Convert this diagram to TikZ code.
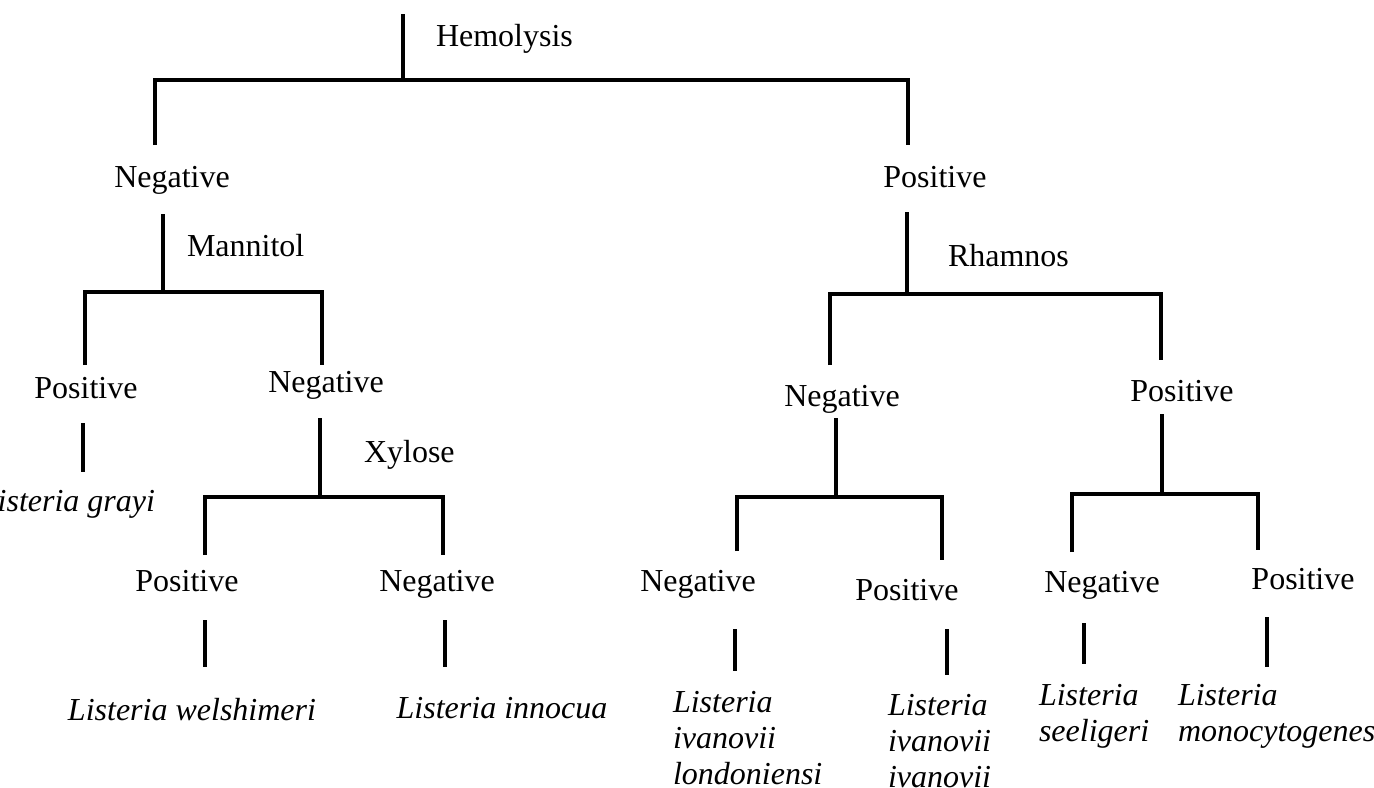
\documentclass[tikz,border=0pt]{standalone}
\usepackage{fontspec}
\setmainfont{Liberation Serif}
\begin{document}
\begin{tikzpicture}[x=0.5pt,y=-0.5pt,line width=2pt,
  lbl/.style={inner sep=0pt,anchor=base,font=\fontsize{16}{18}\selectfont},
  test/.style={inner sep=0pt,anchor=base west,font=\fontsize{16}{18}\selectfont},
  sp/.style={inner sep=0pt,anchor=base,font=\fontsize{16}{18}\selectfont\itshape},
  spm/.style={inner sep=0pt,anchor=north west,align=left,font=\fontsize{16}{18}\selectfont\itshape}]
\useasboundingbox (0,0) rectangle (1374,787);
% labels
\node[test] (hem) at (434,46) {Hemolysis};
\node[lbl] (n1) at (172,187) {Negative};
\node[lbl] (p1) at (935,187) {Positive};
\node[test] (man) at (185,256) {Mannitol};
\node[lbl] (p2) at (86,398) {Positive};
\node[lbl] (n2) at (326,392) {Negative};
\node[sp,anchor=base east] (gra) at (157,511) {Listeria grayi};
\node[test] (xyl) at (362,462) {Xylose};
\node[lbl] (p3) at (187,591) {Positive};
\node[lbl] (n3) at (437,591) {Negative};
\node[sp] (wel) at (192,720) {Listeria welshimeri};
\node[sp] (inn) at (502,718) {Listeria innocua};
\node[test] (rha) at (946,266) {Rhamnos};
\node[lbl] (rn2) at (842,406) {Negative};
\node[lbl] (rp2) at (1182,401) {Positive};
\node[lbl] (rn3a) at (698,591) {Negative};
\node[lbl] (rp3b) at (907,600) {Positive};
\node[lbl] (rn3c) at (1102,592) {Negative};
\node[lbl] (rp3d) at (1303,589) {Positive};
\node[spm] (lon) at (671,689) {Listeria\\ivanovii\\londoniensi};
\node[spm] (iva) at (886,692) {Listeria\\ivanovii\\ivanovii};
\node[spm] (see) at (1037,682) {Listeria\\seeligeri};
\node[spm] (mon) at (1176,682) {Listeria\\monocytogenes};
% junction coordinates
\coordinate (t0) at (403,14); \coordinate (t1) at (403,80);
\coordinate (tl) at (155,145); \coordinate (tr) at (908,145);
\coordinate (m0) at (163,214); \coordinate (m1) at (163,292);
\coordinate (ml) at (85,365); \coordinate (mr) at (322,365);
\coordinate (g0) at (83,423); \coordinate (g1) at (83,472);
\coordinate (x0) at (320,418); \coordinate (x1) at (320,497);
\coordinate (xl) at (205,555); \coordinate (xr) at (443,555);
\coordinate (w0) at (205,620); \coordinate (w1) at (205,667);
\coordinate (i0) at (445,620); \coordinate (i1) at (445,667);
\coordinate (h0) at (907,212); \coordinate (h1) at (907,294);
\coordinate (hl) at (830,365); \coordinate (hr) at (1161,360);
\coordinate (a0) at (836,418); \coordinate (a1) at (836,497);
\coordinate (al) at (737,551); \coordinate (ar) at (942,560);
\coordinate (b0) at (1162,414); \coordinate (b1) at (1162,494);
\coordinate (bl) at (1072,552); \coordinate (br) at (1258,550);
\coordinate (s10) at (735,629); \coordinate (s11) at (735,671);
\coordinate (s20) at (947,629); \coordinate (s21) at (947,675);
\coordinate (s30) at (1084,623); \coordinate (s31) at (1084,664);
\coordinate (s40) at (1267,617); \coordinate (s41) at (1267,667);
% connectors
\draw (t0) -- (t1);
\draw (tl) |- (t1) -| (tr);
\draw (m0) -- (m1);
\draw (ml) |- (m1) -| (mr);
\draw (g0) -- (g1);
\draw (x0) -- (x1);
\draw (xl) |- (x1) -| (xr);
\draw (w0) -- (w1);
\draw (i0) -- (i1);
\draw (h0) -- (h1);
\draw (hl) |- (h1) -| (hr);
\draw (a0) -- (a1);
\draw (al) |- (a1) -| (ar);
\draw (b0) -- (b1);
\draw (bl) |- (b1) -| (br);
\draw (s10) -- (s11);
\draw (s20) -- (s21);
\draw (s30) -- (s31);
\draw (s40) -- (s41);
\end{tikzpicture}
\end{document}
